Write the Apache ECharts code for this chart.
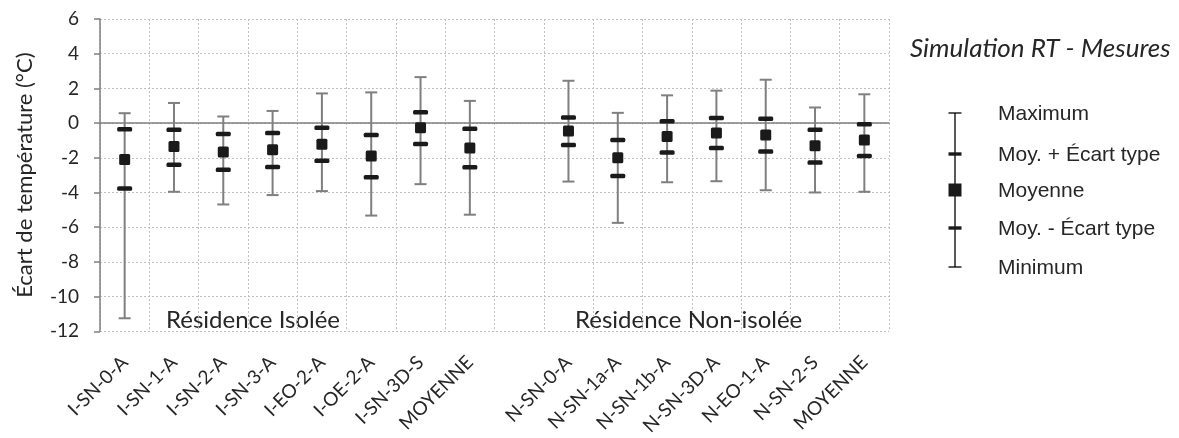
<!DOCTYPE html>
<html>
<head>
<meta charset="utf-8">
<script src="https://cdn.jsdelivr.net/npm/echarts@6/dist/echarts.min.js"></script>
<style>html,body{margin:0;padding:0;background:#fff}#c{width:1179px;height:438px}</style>
</head>
<body>
<div id="c"></div>
<script>
const categories = ['I-SN-0-A','I-SN-1-A','I-SN-2-A','I-SN-3-A','I-EO-2-A','I-OE-2-A','I-SN-3D-S','MOYENNE','','N-SN-0-A','N-SN-1a-A','N-SN-1b-A','N-SN-3D-A','N-EO-1-A','N-SN-2-S','MOYENNE'];
const maxV     = [0.57, 1.16, 0.38, 0.70, 1.71, 1.77, 2.65, 1.28, null, 2.44, 0.59, 1.60, 1.87, 2.50, 0.90, 1.66];
const plusStd  = [-0.36, -0.38, -0.63, -0.57, -0.27, -0.69, 0.63, -0.33, null, 0.32, -0.97, 0.10, 0.29, 0.25, -0.38, -0.06];
const meanV    = [-2.10, -1.35, -1.66, -1.54, -1.22, -1.89, -0.27, -1.43, null, -0.46, -2.00, -0.78, -0.57, -0.69, -1.31, -0.97];
const minusStd = [-3.77, -2.40, -2.69, -2.53, -2.17, -3.12, -1.20, -2.55, null, -1.26, -3.05, -1.70, -1.43, -1.64, -2.27, -1.90];
const minV     = [-11.25, -3.96, -4.69, -4.15, -3.92, -5.33, -3.52, -5.28, null, -3.37, -5.75, -3.41, -3.35, -3.87, -4.00, -3.96];
const yTicks = {min: -12, max: 6, interval: 2};
const yTitle = 'Écart de température (°C)';
const chartTitle = 'Simulation RT - Mesures';
const groupLabels = ['Résidence Isolée', 'Résidence Non-isolée'];
const legendLabels = ['Maximum', 'Moy. + Écart type', 'Moyenne', 'Moy. - Écart type', 'Minimum'];

const FONT = 'Lato';
const TXT = '#262626';
const WHISK = '#7f7f7f';
const DARK = '#1a1a1a';

const data = [];
categories.forEach((c, i) => {
  if (meanV[i] == null) return;
  data.push([i, minV[i], minusStd[i], meanV[i], plusStd[i], maxV[i]]);
});

function renderItem(params, api) {
  const x = api.value(0);
  const pMin = api.coord([x, api.value(1)]);
  const pMs = api.coord([x, api.value(2)]);
  const pMean = api.coord([x, api.value(3)]);
  const pPs = api.coord([x, api.value(4)]);
  const pMax = api.coord([x, api.value(5)]);
  const cx = pMean[0];
  const capW = 12, stdW = 15, stdH = 4.5, sq = 11;
  return {
    type: 'group',
    children: [
      {type: 'line', shape: {x1: cx, y1: pMax[1], x2: cx, y2: pMin[1]}, style: {stroke: WHISK, lineWidth: 2}},
      {type: 'line', shape: {x1: cx - capW/2, y1: pMax[1], x2: cx + capW/2, y2: pMax[1]}, style: {stroke: WHISK, lineWidth: 2}},
      {type: 'line', shape: {x1: cx - capW/2, y1: pMin[1], x2: cx + capW/2, y2: pMin[1]}, style: {stroke: WHISK, lineWidth: 2}},
      {type: 'rect', shape: {x: cx - stdW/2, y: pPs[1] - stdH/2, width: stdW, height: stdH, r: 1.5}, style: {fill: DARK}},
      {type: 'rect', shape: {x: cx - stdW/2, y: pMs[1] - stdH/2, width: stdW, height: stdH, r: 1.5}, style: {fill: DARK}},
      {type: 'rect', shape: {x: cx - sq/2, y: pMean[1] - sq/2, width: sq, height: sq, r: 1.5}, style: {fill: DARK}}
    ]
  };
}

// legend drawing
const LX = 955;
const legY = [113, 154, 190, 228, 267];
const legendGraphics = [
  {type: 'line', shape: {x1: LX, y1: legY[0], x2: LX, y2: legY[4]}, style: {stroke: '#000', lineWidth: 1.3}},
  {type: 'line', shape: {x1: LX - 6.5, y1: legY[0], x2: LX + 6.5, y2: legY[0]}, style: {stroke: '#000', lineWidth: 1.3}},
  {type: 'line', shape: {x1: LX - 6.5, y1: legY[4], x2: LX + 6.5, y2: legY[4]}, style: {stroke: '#000', lineWidth: 1.3}},
  {type: 'rect', shape: {x: LX - 6.5, y: legY[1] - 1.7, width: 13, height: 3.4}, style: {fill: DARK}},
  {type: 'rect', shape: {x: LX - 6.5, y: legY[3] - 1.7, width: 13, height: 3.4}, style: {fill: DARK}},
  {type: 'rect', shape: {x: LX - 6.5, y: legY[2] - 6.5, width: 13, height: 13}, style: {fill: DARK}}
];
legendLabels.forEach((t, i) => {
  legendGraphics.push({type: 'text', x: 998, y: legY[i] + 1, style: {text: t, fill: TXT, font: '21px "Liberation Sans"', textVerticalAlign: 'middle'}});
});

const chart = echarts.init(document.getElementById('c'), null, {renderer: 'canvas'});
chart.setOption({
  animation: false,
  textStyle: {fontFamily: FONT},
  grid: {left: 100, right: 290, top: 19, bottom: 104, containLabel: false},
  xAxis: [
    {
      type: 'category', data: categories, position: 'bottom',
      axisLine: {show: false, onZero: false},
      axisTick: {show: false},
      axisLabel: {interval: 0, rotate: 45, fontSize: 19, color: TXT, fontFamily: FONT, margin: 28},
      splitLine: {show: true, interval: 0, lineStyle: {type: [2, 2], color: '#bfbfbf', width: 1}}
    },
    {
      type: 'category', data: categories, position: 'bottom',
      axisLine: {show: true, onZero: true, lineStyle: {color: '#808080', width: 1.5}},
      axisTick: {show: false}, axisLabel: {show: false}, splitLine: {show: false}
    }
  ],
  yAxis: {
    type: 'value', min: yTicks.min, max: yTicks.max, interval: yTicks.interval,
    name: yTitle, nameLocation: 'middle', nameGap: 64, nameRotate: 90,
    nameTextStyle: {fontSize: 22, color: TXT, fontFamily: FONT},
    axisLine: {show: true, lineStyle: {color: '#808080', width: 1.5}},
    axisTick: {show: true, inside: false, length: 6, lineStyle: {color: '#808080', width: 1.5}},
    axisLabel: {fontSize: 19, color: TXT, fontFamily: FONT, margin: 21},
    splitLine: {show: true, lineStyle: {type: [2, 2], color: '#bfbfbf', width: 1}}
  },
  series: [{
    type: 'custom', xAxisIndex: 0, yAxisIndex: 0,
    renderItem: renderItem,
    encode: {x: 0, y: [1, 2, 3, 4, 5]},
    data: data,
    z: 5
  }],
  graphic: [
    {type: 'text', x: 910, y: 49, style: {text: chartTitle, fill: TXT, font: 'italic 26px Lato', textVerticalAlign: 'middle'}},
    {type: 'text', x: 166, y: 320, style: {text: groupLabels[0], fill: TXT, font: '24px Lato', textVerticalAlign: 'middle'}},
    {type: 'text', x: 575, y: 320, style: {text: groupLabels[1], fill: TXT, font: '24px Lato', textVerticalAlign: 'middle'}}
  ].concat(legendGraphics)
});
</script>
</body>
</html>
